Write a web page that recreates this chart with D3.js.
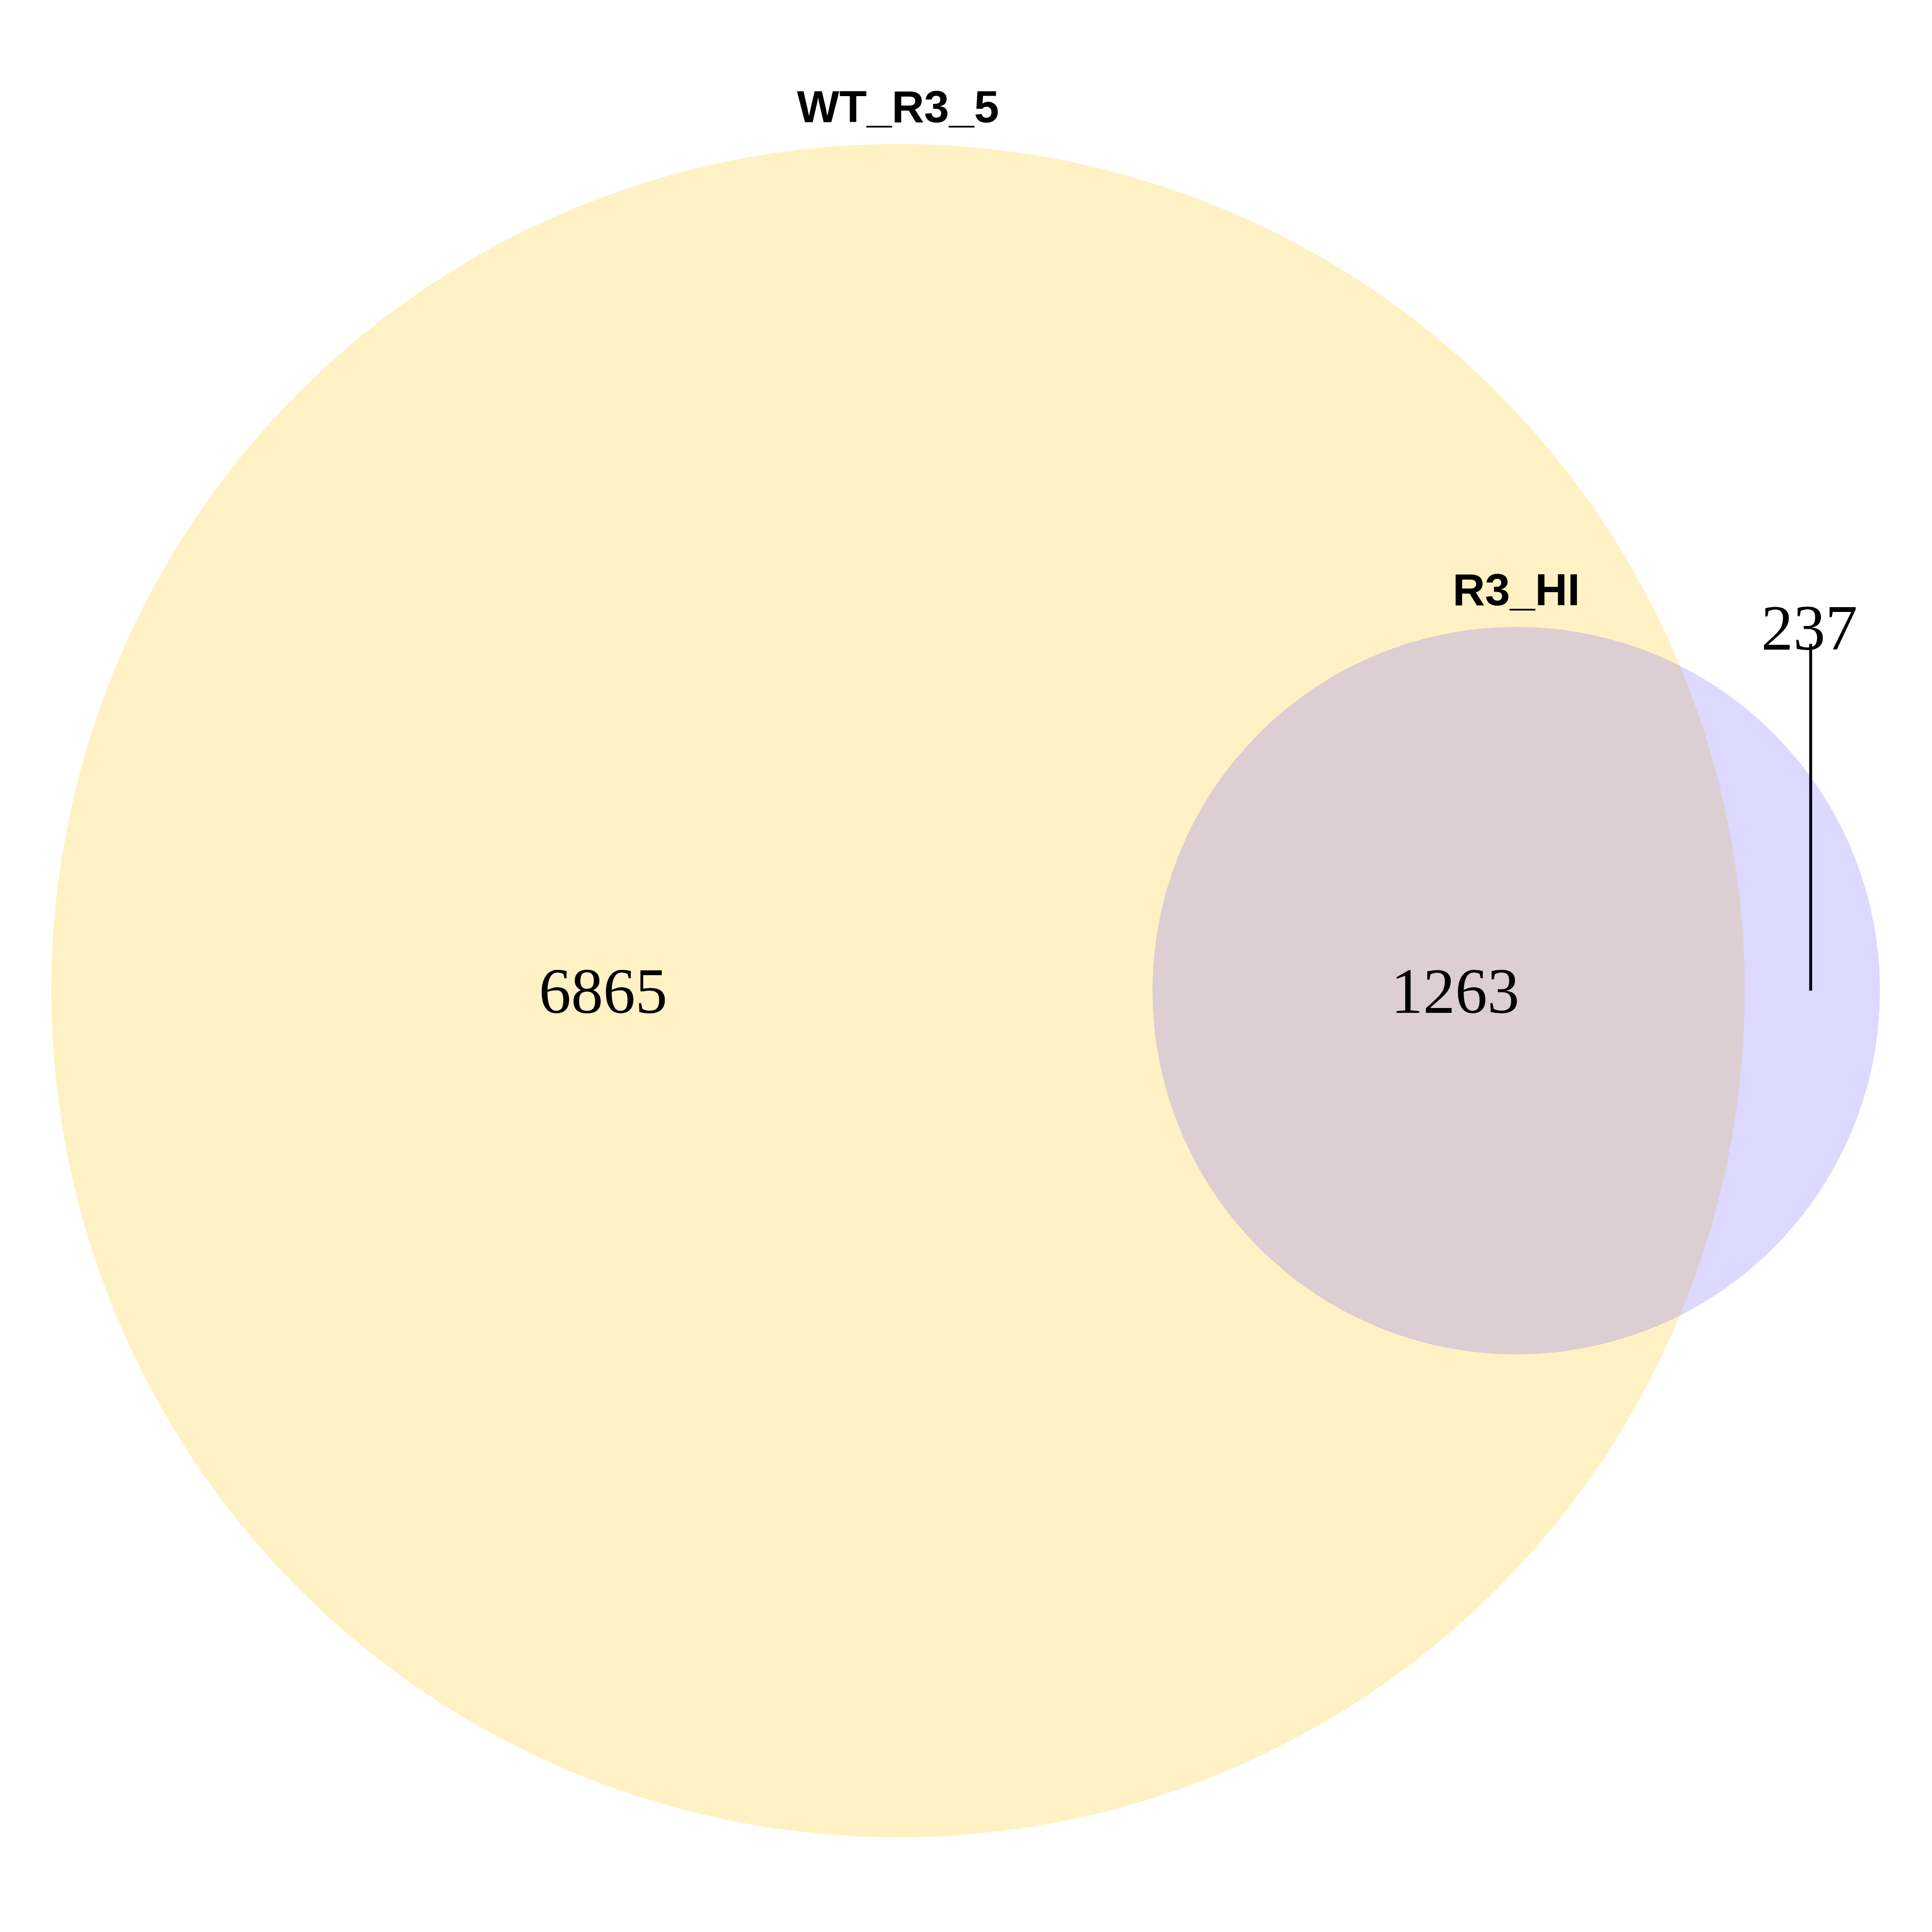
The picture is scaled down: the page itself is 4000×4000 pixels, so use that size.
<!DOCTYPE html>
<html>
<head>
<meta charset="utf-8">
<script src="https://cdn.jsdelivr.net/npm/d3@7"></script>
<style>body{margin:0;background:#fff}</style>
</head>
<body>
<script>
// set names and region counts
var setNames = ['WT_R3_5', 'R3_HI'];
var regionLabels = ['6865', '1263', '237'];
var setTotals = [6865 + 1263, 1263 + 237];

var W = 4000, H = 4000;
var svg = d3.select('body').append('svg').attr('width', W).attr('height', H);

// layout units: big circle radius area-scaled
var rScale = d3.scaleSqrt().domain([0, setTotals[0]]).range([0, 1753]);
var x = d3.scaleLinear().domain([0, 1]).range([0, W]);
var cy = 2051;
var circles = [
	{name: setNames[0], cx: x(0.4648), r: rScale(setTotals[0]), fill: 'rgb(254,242,196)', op: 1},
	{name: setNames[1], cx: x(0.7848), r: rScale(setTotals[1]), fill: 'rgb(120,100,255)', op: 0.25}
];

svg.selectAll('circle').data(circles).enter().append('circle')
	.attr('cx', function(d){ return d.cx; })
	.attr('cy', cy)
	.attr('r', function(d){ return d.r; })
	.attr('fill', function(d){ return d.fill; })
	.attr('fill-opacity', function(d){ return d.op; });

svg.selectAll('text.set').data(circles).enter().append('text')
	.attr('class', 'set')
	.attr('x', function(d){ return d.cx; })
	.attr('y', function(d){ return cy - d.r - 45; })
	.attr('text-anchor', 'middle')
	.style('font-family', 'Liberation Sans, Arial, sans-serif')
	.style('font-weight', 'bold')
	.style('font-size', '93px')
	.text(function(d){ return d.name; });

// leader line for the small outside region
svg.append('line')
	.attr('x1', x(0.9372)).attr('x2', x(0.9372))
	.attr('y1', 1333).attr('y2', cy)
	.attr('stroke', '#000').attr('stroke-width', 6);

var regions = [
	{t: regionLabels[0], x: x(0.3122), y: cy + 46},
	{t: regionLabels[1], x: x(0.7532), y: cy + 46},
	{t: regionLabels[2], x: x(0.9365), y: 1345}
];
svg.selectAll('text.reg').data(regions).enter().append('text')
	.attr('class', 'reg')
	.attr('x', function(d){ return d.x; })
	.attr('y', function(d){ return d.y; })
	.attr('text-anchor', 'middle')
	.style('font-family', 'Liberation Serif, Times New Roman, serif')
	.style('font-size', '133px')
	.text(function(d){ return d.t; });
</script>
</body>
</html>
